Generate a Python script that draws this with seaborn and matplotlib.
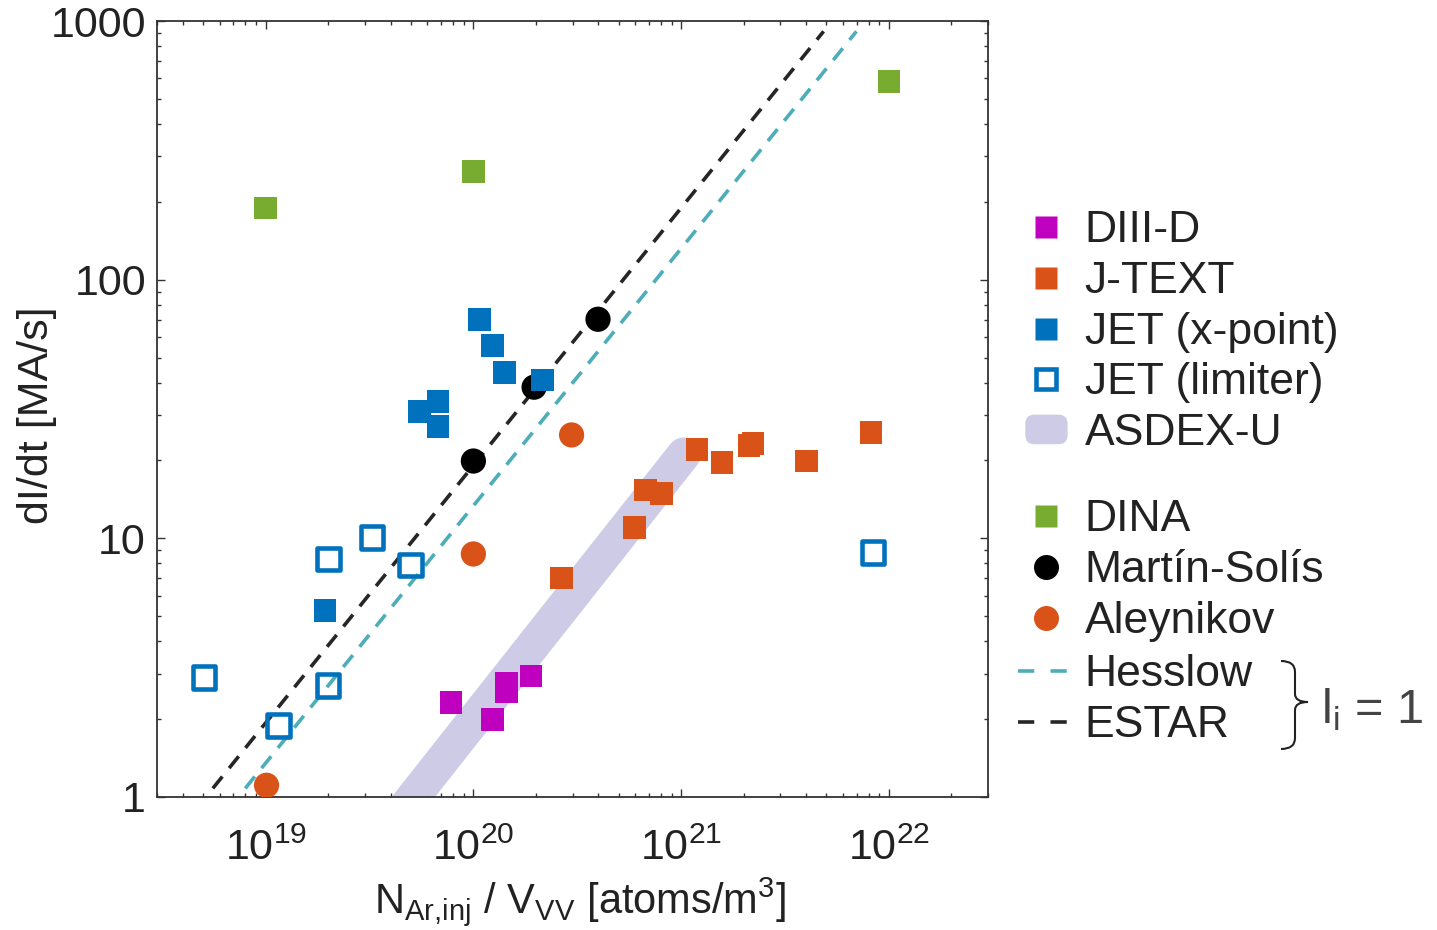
import numpy as np
import pandas as pd
import matplotlib
matplotlib.use("Agg")
import matplotlib.pyplot as plt
import seaborn as sns
from matplotlib.lines import Line2D
from matplotlib.patches import FancyBboxPatch, Patch, PathPatch
from matplotlib.legend_handler import HandlerPatch
from matplotlib.path import Path
from matplotlib.ticker import LogLocator, NullFormatter
import matplotlib.transforms as mtransforms

# ---------------- data ----------------
diiid_x = [7.79e19, 1.24e20, 1.44e20, 1.44e20, 1.89e20]
diiid_y = [2.32, 1.99, 2.76, 2.56, 2.94]

jtext_x = [2.66e20, 5.96e20, 6.73e20, 8.02e20, 1.19e21, 1.57e21, 2.12e21, 2.22e21, 4.0e21, 8.2e21]
jtext_y = [7.03, 11.0, 15.4, 14.9, 22.1, 19.6, 22.8, 23.2, 19.9, 25.7]

jetx_x = [1.07e20, 1.24e20, 1.41e20, 2.15e20, 5.51e19, 6.75e19, 6.75e19, 1.93e19]
jetx_y = [70.3, 55.6, 43.7, 40.9, 30.9, 33.8, 27.0, 5.25]

jetl_x = [5.06e18, 1.15e19, 2.0e19, 2.01e19, 3.25e19, 4.97e19, 8.37e21]
jetl_y = [2.89, 1.89, 2.70, 8.32, 10.1, 7.89, 8.83]

dina_x = [1e19, 1e20, 1e22]
dina_y = [189, 262, 584]

martin_x = [1.0e20, 1.96e20, 3.98e20]
martin_y = [19.9, 38.4, 70.3]

aley_x = [1.01e19, 1.0e20, 2.97e20]
aley_y = [1.11, 8.7, 25.1]

hesslow_x = [7.98e18, 6.98e21]
hesslow_y = [1.08, 912]

estar_x = [5.57e18, 4.85e21]
estar_y = [1.08, 912]

asdex_x = [2.6e19, 1.03e21]
asdex_y = [0.5, 21.1]

ytick_vals = [1, 10, 100, 1000]
ytick_labels = ["1", "10", "100", "1000"]

legend1_labels = ["DIII-D", "J-TEXT", "JET (x-point)", "JET (limiter)", "ASDEX-U"]
legend2_labels = ["DINA", "Martín-Solís", "Aleynikov"]
legend3_labels = ["Hesslow", "ESTAR"]

# ---------------- style ----------------
MAGENTA = "#BF00BF"
ORANGE = "#D95319"
BLUE = "#0072BD"
GREEN = "#77AC30"
TEAL = "#4DADB9"
DARK = "#262626"
LAVENDER = "#CDCBE6"
TXT = "#222222"

sns.set_style("ticks")
plt.rcParams["font.family"] = ["Liberation Sans", "DejaVu Sans"]
plt.rcParams["mathtext.fontset"] = "custom"
plt.rcParams["mathtext.rm"] = "Liberation Sans"
plt.rcParams["mathtext.it"] = "Liberation Sans:italic"
plt.rcParams["mathtext.bf"] = "Liberation Sans:bold"
plt.rcParams["text.color"] = TXT
plt.rcParams["axes.labelcolor"] = TXT
plt.rcParams["xtick.color"] = "#333333"
plt.rcParams["ytick.color"] = "#333333"
plt.rcParams["xtick.labelcolor"] = TXT
plt.rcParams["ytick.labelcolor"] = TXT

W, H = 1437, 930
fig = plt.figure(figsize=(W / 100, H / 100), dpi=100)
ax = fig.add_axes([157 / W, 1 - 797 / H, (988 - 157) / W, (797 - 21) / H])
ax.set_xscale("log")
ax.set_yscale("log")

SQ = 265      # square marker area (pt^2)
CI = 330      # circle marker area

# ASDEX-U band
sns.lineplot(x=asdex_x, y=asdex_y, ax=ax, color=LAVENDER, lw=24.5,
             solid_capstyle="round", sort=False, estimator=None, zorder=1)
# scaling lines
sns.lineplot(x=estar_x, y=estar_y, ax=ax, color=DARK, lw=2.6,
             linestyle=(0, (4.2, 3.0)), sort=False, estimator=None, zorder=2)
sns.lineplot(x=hesslow_x, y=hesslow_y, ax=ax, color=TEAL, lw=2.6,
             linestyle=(0, (4.2, 3.0)), sort=False, estimator=None, zorder=2)

# circles
sns.scatterplot(x=martin_x, y=martin_y, ax=ax, marker="o", s=CI, color="black",
                edgecolor="none", linewidth=0, zorder=3)
sns.scatterplot(x=aley_x, y=aley_y, ax=ax, marker="o", s=CI, color=ORANGE,
                edgecolor="none", linewidth=0, zorder=3)
# squares
sns.scatterplot(x=dina_x, y=dina_y, ax=ax, marker="s", s=SQ, color=GREEN,
                edgecolor="none", linewidth=0, zorder=4)
sns.scatterplot(x=diiid_x, y=diiid_y, ax=ax, marker="s", s=SQ, color=MAGENTA,
                edgecolor="none", linewidth=0, zorder=4)
sns.scatterplot(x=jtext_x, y=jtext_y, ax=ax, marker="s", s=SQ, color=ORANGE,
                edgecolor="none", linewidth=0, zorder=4)
sns.scatterplot(x=jetx_x, y=jetx_y, ax=ax, marker="s", s=SQ, color=BLUE,
                edgecolor="none", linewidth=0, zorder=4)
sns.scatterplot(x=jetl_x, y=jetl_y, ax=ax, marker="s", s=SQ, facecolor="none",
                edgecolor=BLUE, linewidth=3.3, zorder=4)

# axes
ax.set_xlim(3e18, 3e22)
ax.set_ylim(1, 1000)
ax.set_yticks(ytick_vals, labels=ytick_labels)
ax.yaxis.set_minor_locator(LogLocator(base=10, subs=np.arange(2, 10), numticks=20))
ax.yaxis.set_minor_formatter(NullFormatter())
ax.xaxis.set_major_locator(LogLocator(base=10, numticks=20))
ax.xaxis.set_minor_locator(LogLocator(base=10, subs=np.arange(2, 10), numticks=20))
ax.xaxis.set_minor_formatter(NullFormatter())
ax.tick_params(which="both", direction="in", top=True, right=True, width=1.0)
ax.tick_params(which="major", length=5.8, labelsize=31)
ax.tick_params(which="minor", length=2.9)
ax.tick_params(axis="y", which="major", pad=8)
ax.tick_params(axis="x", which="major", pad=23)
for sp in ax.spines.values():
    sp.set_color("#333333")
    sp.set_linewidth(1.3)
    sp.set_visible(True)

ax.set_ylabel("dI/dt [MA/s]", fontsize=31)
ax.set_xlabel(r"N$_\mathregular{Ar{,}inj}$ / V$_\mathregular{VV}$ [atoms/m$^\mathregular{3}$]", fontsize=30)
ax.yaxis.set_label_coords((57 - 157) / 831, (797 - 415) / 776)
ax.xaxis.set_label_coords((580 - 157) / 831, (797 - 875) / 776)

# ---------------- legends ----------------
def round_patch(legend, orig_handle, xdescent, ydescent, width, height, fontsize):
    r = height * 0.3
    return FancyBboxPatch((-xdescent + r, -ydescent + r), width - 2 * r, height - 2 * r,
                          boxstyle=f"round,pad={r}", facecolor=LAVENDER, edgecolor="none")

h_asdex = Patch(color=LAVENDER)
handles1 = [
    Line2D([], [], ls="none", marker="s", ms=16.5, mfc=MAGENTA, mec="none"),
    Line2D([], [], ls="none", marker="s", ms=16.5, mfc=ORANGE, mec="none"),
    Line2D([], [], ls="none", marker="s", ms=16.5, mfc=BLUE, mec="none"),
    Line2D([], [], ls="none", marker="s", ms=14.5, mfc="none", mec=BLUE, mew=3.3),
    h_asdex,
]
handles2 = [
    Line2D([], [], ls="none", marker="s", ms=16.5, mfc=GREEN, mec="none"),
    Line2D([], [], ls="none", marker="o", ms=18, mfc="black", mec="none"),
    Line2D([], [], ls="none", marker="o", ms=18, mfc=ORANGE, mec="none"),
]
handles3 = [
    Line2D([], [], color=TEAL, lw=2.6, ls=(0, (4.5, 4.5))),
    Line2D([], [], color=DARK, lw=2.6, ls=(0, (4.5, 4.5))),
]

common = dict(loc="upper left", bbox_transform=fig.transFigure, frameon=False,
              fontsize=32, borderpad=0, borderaxespad=0, labelspacing=0.22,
              labelcolor=TXT)
leg1 = fig.legend(handles=handles1, labels=legend1_labels,
                  bbox_to_anchor=(1026 / W, 1 - 210 / H),
                  handlelength=0.92, handleheight=0.6, handletextpad=0.4,
                  handler_map={h_asdex: HandlerPatch(patch_func=round_patch)}, **common)
leg2 = fig.legend(handles=handles2, labels=legend2_labels,
                  bbox_to_anchor=(1026 / W, 1 - 499 / H),
                  handlelength=0.92, handleheight=0.6, handletextpad=0.4, **common)
leg3 = fig.legend(handles=handles3, labels=legend3_labels,
                  bbox_to_anchor=(1018 / W, 1 - 654 / H),
                  handlelength=1.12, handleheight=0.6, handletextpad=0.38, **common)

# brace and l_i = 1 annotation (pixel coordinates, y downward)
pix = mtransforms.Affine2D().scale(1 / W, -1 / H).translate(0, 1) + fig.transFigure
verts = [(1281, 661), (1295, 661), (1295, 672), (1295, 694), (1295, 702), (1308, 702),
         (1295, 702), (1295, 710), (1295, 738), (1295, 749), (1281, 749)]
codes = [Path.MOVETO, Path.CURVE3, Path.CURVE3, Path.LINETO, Path.CURVE3, Path.CURVE3,
         Path.CURVE3, Path.CURVE3, Path.LINETO, Path.CURVE3, Path.CURVE3]
fig.add_artist(PathPatch(Path(verts, codes), transform=pix, facecolor="none",
                         edgecolor=TXT, lw=1.5))
fig.text(1321 / W, 1 - 723 / H, r"l$_\mathregular{i}$ = 1", fontsize=35,
         color="#444444", ha="left", va="baseline")

fig.savefig("out.png", dpi=100)
